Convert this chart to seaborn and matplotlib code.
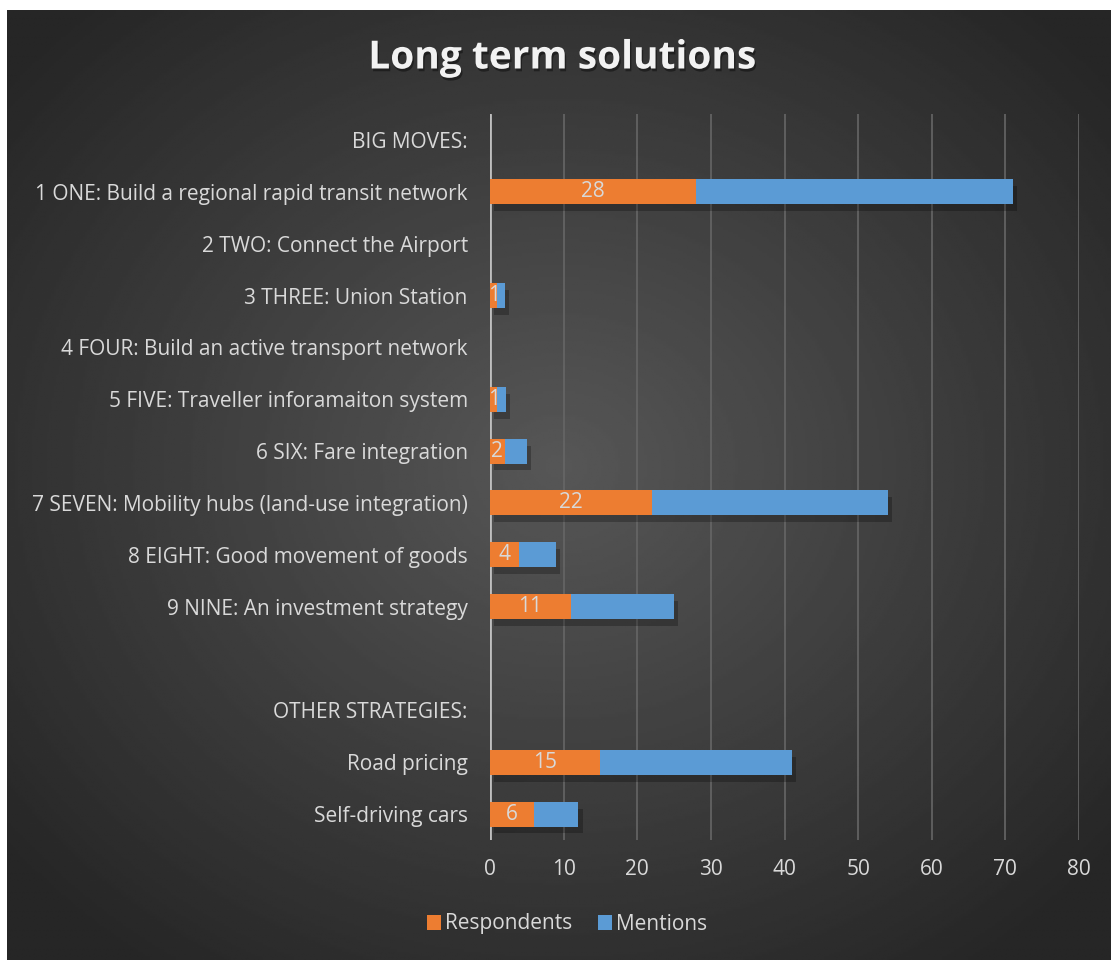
import numpy as np
import pandas as pd
import matplotlib
matplotlib.use("Agg")
import matplotlib.pyplot as plt
import matplotlib.patheffects as pe
from matplotlib.patches import Patch
import seaborn as sns

categories = [
    "BIG MOVES:",
    "1 ONE: Build a regional rapid transit network",
    "2 TWO: Connect the Airport",
    "3 THREE: Union Station",
    "4 FOUR: Build an active transport network",
    "5 FIVE: Traveller inforamaiton system",
    "6 SIX: Fare integration",
    "7 SEVEN: Mobility hubs (land-use integration)",
    "8 EIGHT: Good movement of goods",
    "9 NINE: An investment strategy",
    "",
    "OTHER STRATEGIES:",
    "Road pricing",
    "Self-driving cars",
]
respondents = [np.nan, 28, np.nan, 1, np.nan, 1, 2, 22, 4, 11, np.nan, np.nan, 15, 6]
mentions = [np.nan, 43, np.nan, 1, np.nan, 1.2, 3, 32, 5, 14, np.nan, np.nan, 26, 6]
x_ticks = [0, 10, 20, 30, 40, 50, 60, 70, 80]

df = pd.DataFrame({"Solution": categories, "Respondents": respondents, "Mentions": mentions})
df["Total"] = df["Respondents"] + df["Mentions"]

sns.set_theme(style="dark")
plt.rcParams["font.family"] = ["Open Sans", "DejaVu Sans"]

orange = "#ED7D31"
blue = "#5B9BD5"
text_col = "#D9D9D9"
fs = 15

fig = plt.figure(figsize=(11.11, 9.6), dpi=100)
fig.patch.set_facecolor("white")

# dark panel with a soft radial gradient
bg = fig.add_axes([7 / 1111, 0, 1 - 7 / 1111, 1 - 10 / 960], zorder=-5)
yy, xx = np.mgrid[0:1:400j, 0:1:460j]
r = np.sqrt(((xx - 0.5) / 0.75) ** 2 + ((yy - 0.48) / 0.75) ** 2)
shade = np.clip(0.34 - 0.22 * r, 0.15, 0.34)
bg.imshow(shade, cmap="gray", vmin=0, vmax=1, aspect="auto", extent=[0, 1, 0, 1])
bg.set_axis_off()

ax = fig.add_axes([490 / 1111, 1 - 840 / 960, (1079 - 490) / 1111, (840 - 114) / 960])
ax.patch.set_alpha(0)

sns.barplot(data=df, y="Solution", x="Total", order=categories, color=blue,
            saturation=1, width=0.48, orient="h", ax=ax, errorbar=None)
sns.barplot(data=df, y="Solution", x="Respondents", order=categories, color=orange,
            saturation=1, width=0.48, orient="h", ax=ax, errorbar=None)

shadow = [pe.SimplePatchShadow(offset=(3, -5), shadow_rgbFace="black", alpha=0.25), pe.Normal()]
for p in ax.containers[0]:
    p.set_edgecolor("none")
    p.set_path_effects(shadow)
for p in ax.containers[1]:
    p.set_edgecolor("none")
    p.set_zorder(3)

for i, val in enumerate(df["Respondents"]):
    if np.isnan(val):
        continue
    ax.text(val / 2, i, f"{val:.0f}", ha="center", va="center",
            color=text_col, fontsize=fs, zorder=4)

ax.set_xlim(0, 80)
ax.set_xticks(x_ticks)
ax.set_xticklabels([str(t) for t in x_ticks])
ax.set_xlabel("")
ax.set_ylabel("")
ax.grid(axis="x", color="#666666", linewidth=1.2)
ax.grid(axis="y", visible=False)
ax.set_axisbelow(True)
for s in ax.spines.values():
    s.set_visible(False)
ax.axvline(0, color="#BFBFBF", linewidth=2, zorder=1)
ax.tick_params(axis="y", length=0, pad=16, labelsize=fs, labelcolor=text_col)
ax.tick_params(axis="x", length=0, pad=14, labelsize=fs, labelcolor=text_col)

fig.text(562 / 1111, 1 - 58 / 960, "Long term solutions", ha="center", va="center",
         color="#F2F2F2", fontsize=28, fontweight="bold",
         path_effects=[pe.withSimplePatchShadow(offset=(1, -2), shadow_rgbFace="black", alpha=0.4)])

handles = [Patch(facecolor=orange, edgecolor="none", label="Respondents"),
           Patch(facecolor=blue, edgecolor="none", label="Mentions")]
fig.legend(handles=handles, loc="center", bbox_to_anchor=(567 / 1111, 1 - 924 / 960), ncol=2,
           frameon=False, fontsize=fs, labelcolor=text_col, handlelength=0.7,
           handleheight=0.7, handletextpad=0.2, columnspacing=1.2)

fig.savefig("out.png", dpi=100)
